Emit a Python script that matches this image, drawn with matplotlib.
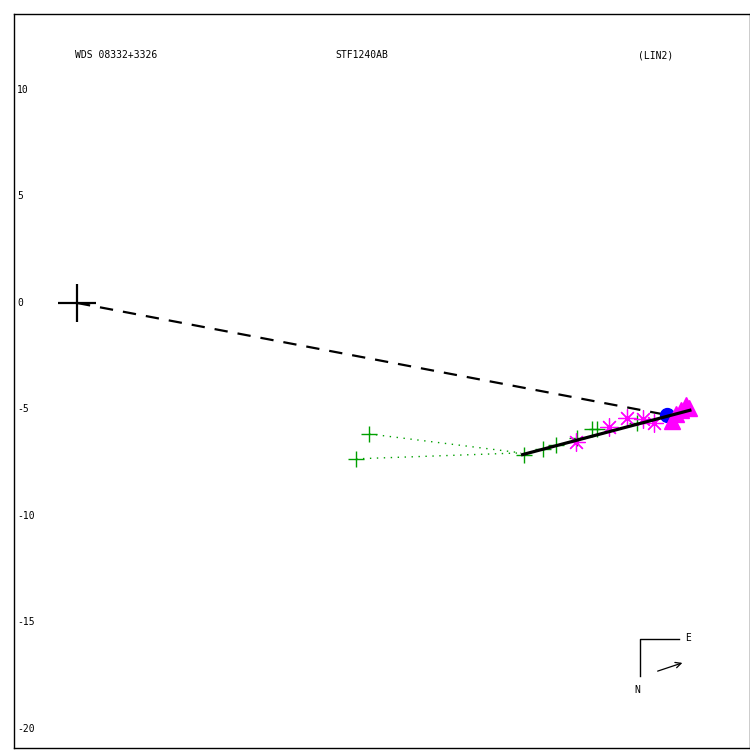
import matplotlib
matplotlib.use("Agg")
import matplotlib.pyplot as plt
from matplotlib.transforms import blended_transform_factory

# ---- data (arcsec) ----
primary = (0.0, 0.0)
green_x = [13.71, 13.10, 20.99, 21.88, 22.49, 23.47, 24.18, 24.41, 26.29]
green_y = [-6.15, -7.32, -7.14, -6.85, -6.67, -6.34, -5.92, -5.92, -5.63]
green_pred_x = [20.85, 20.85, 20.99, 21.88, 22.49, 23.47, 24.18, 24.41, 26.29]
green_pred_y = [-7.04, -7.04, -7.14, -6.85, -6.67, -6.34, -5.92, -5.92, -5.63]
star_x = [23.43, 24.98, 25.82, 26.57, 27.09]
star_y = [-6.53, -5.82, -5.40, -5.45, -5.63]
tri_x = [28.59, 28.36, 28.12, 27.93, 28.73]
tri_y = [-4.79, -5.02, -5.21, -5.54, -4.93]
current_x, current_y = 27.70, -5.26
fit_x = [20.85, 28.85]
fit_y = [-7.14, -5.02]
yticks = [10, 5, 0, -5, -10, -15, -20]
titles = ["WDS 08332+3326", "STF1240AB", "(LIN2)"]

mono = "DejaVu Sans Mono"
fig = plt.figure(figsize=(7.5, 7.5), dpi=100)
ax = fig.add_axes([14/750, 2/750, 736/750, 734/750])
ax.set_xlim(-2.96, 31.60)
ax.set_ylim(-20.9, 13.57)
ax.set_xticks([]); ax.set_yticks([])
for s in ax.spines.values():
    s.set_linewidth(1.0)

# dashed line from primary to current position
ax.plot([primary[0], current_x], [primary[1], current_y], color="black",
        lw=1.6, dashes=(6, 4.5))
# O-C dotted lines
for gx, gy, px_, py_ in zip(green_x, green_y, green_pred_x, green_pred_y):
    ax.plot([gx, px_], [gy, py_], color="#00a000", lw=1, ls=(0, (1, 4)))
# observations
ax.plot(green_x, green_y, ls="none", marker="+", ms=11, mew=1.0, color="#00a000", zorder=4)
ax.plot(star_x, star_y, ls="none", marker=(8, 2, 0), ms=13, mew=0.9, color="#ff00ff", zorder=4)
ax.plot([current_x], [current_y], ls="none", marker="o", ms=10, color="#0000ff", zorder=5)
ax.plot(tri_x, tri_y, ls="none", marker="^", ms=11, color="#ff00ff", zorder=6)
# fitted linear path (drawn on top)
ax.plot(fit_x, fit_y, color="black", lw=2.3, solid_capstyle="butt", zorder=7)
# primary
ax.plot([primary[0]], [primary[1]], marker="+", ms=28, mew=1.6, color="black", zorder=6)

# y labels inside
tr = blended_transform_factory(ax.transAxes, ax.transData)
for v in yticks:
    ax.text(0.004, v, str(v), transform=tr,
            ha="left", va="center", fontsize=7, family=mono)

# titles
for xf, t in zip([116, 362, 656], titles):
    ax.text((xf - 14) / 736, (750 - 55 - 2) / 734, t, transform=ax.transAxes,
            ha="center", va="center", fontsize=7, family=mono)

# compass
def px(x, y):
    return ((x - 14) / 736, (750 - y - 2) / 734)
ax.plot(*zip(px(640, 676), px(640, 639), px(679, 639)), transform=ax.transAxes,
        color="black", lw=1)
ax.text(*px(688, 638), "E", transform=ax.transAxes, ha="center", va="center",
        fontsize=7, family=mono)
ax.text(*px(637, 690), "N", transform=ax.transAxes, ha="center", va="center",
        fontsize=7, family=mono)
ax.annotate("", xy=px(685, 662), xytext=px(655, 672), xycoords="axes fraction",
            textcoords="axes fraction",
            arrowprops=dict(arrowstyle="->", lw=0.9, color="black"))

fig.savefig("out.png", dpi=100)
